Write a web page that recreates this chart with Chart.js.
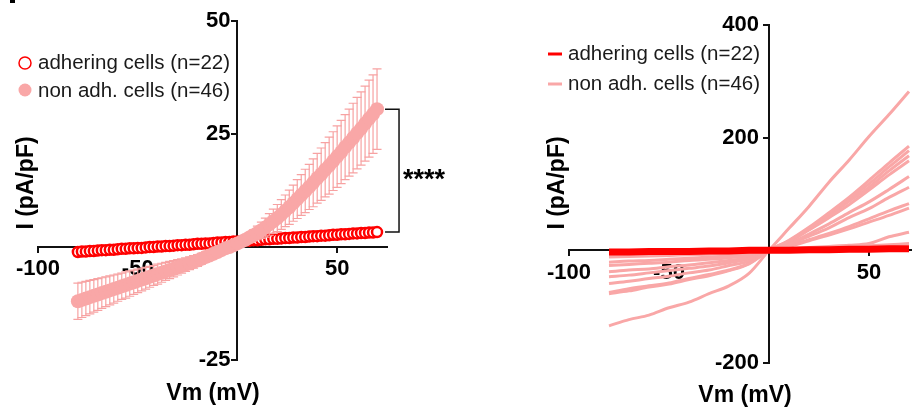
<!DOCTYPE html>
<html>
<head>
<meta charset="utf-8">
<script src="https://cdn.jsdelivr.net/npm/chart.js@4.4.0/dist/chart.umd.min.js"></script>
<style>
  html, body { margin: 0; padding: 0; background: #fff; }
  #wrap { position: relative; width: 912px; height: 411px; overflow: hidden; background: #fff; }
  canvas { position: absolute; top: 0; }
  #meanChart { left: 0; }
  #traceChart { left: 456px; }
</style>
</head>
<body>
<div id="wrap">
  <canvas id="meanChart" width="456" height="411"></canvas>
  <canvas id="traceChart" width="456" height="411"></canvas>
</div>
<script>
// ---- data ----

// left panel: mean +/- SEM, one sample every 2 mV
const meanVm = [-80, -78, -76, -74, -72, -70, -68, -66, -64, -62, -60, -58, -56, -54, -52, -50, -48, -46, -44, -42,
                -40, -38, -36, -34, -32, -30, -28, -26, -24, -22, -20, -18, -16, -14, -12, -10, -8, -6, -4, -2,
                0, 2, 4, 6, 8, 10, 12, 14, 16, 18, 20, 22, 24, 26, 28, 30, 32, 34, 36, 38,
                40, 42, 44, 46, 48, 50, 52, 54, 56, 58, 60, 62, 64, 66, 68, 70];
const adheringMean = [-1.1, -1.0, -1.0, -0.9, -0.9, -0.8, -0.7, -0.7, -0.6, -0.6, -0.5, -0.4, -0.4, -0.3, -0.3, -0.2, -0.2, -0.1, 0.0, 0.0,
                      0.1, 0.1, 0.2, 0.2, 0.3, 0.4, 0.4, 0.5, 0.5, 0.6, 0.7, 0.7, 0.8, 0.8, 0.9, 1.0, 1.0, 1.1, 1.1, 1.2,
                      1.2, 1.3, 1.4, 1.4, 1.5, 1.5, 1.6, 1.7, 1.7, 1.8, 1.8, 1.9, 2.0, 2.0, 2.1, 2.1, 2.2, 2.2, 2.3, 2.4,
                      2.4, 2.5, 2.5, 2.6, 2.7, 2.7, 2.8, 2.8, 2.9, 3.0, 3.0, 3.1, 3.1, 3.2, 3.2, 3.3];
const nonAdhMean = [-12.0, -11.7, -11.4, -11.1, -10.8, -10.5, -10.2, -9.9, -9.6, -9.3, -9.0, -8.7, -8.4, -8.1, -7.8, -7.5, -7.2, -6.9, -6.6, -6.3,
                    -6.0, -5.7, -5.4, -5.1, -4.8, -4.5, -4.2, -3.9, -3.6, -3.3, -3.0, -2.6, -2.2, -1.9, -1.5, -1.1, -0.7, -0.3, 0.0, 0.4,
                    0.8, 1.2, 1.6, 2.1, 2.6, 3.1, 3.7, 4.3, 5.0, 5.7, 6.4, 7.2, 8.0, 8.8, 9.7, 10.6, 11.5, 12.4, 13.3, 14.2,
                    15.2, 16.1, 17.1, 18.0, 19.0, 20.0, 21.0, 22.1, 23.1, 24.1, 25.2, 26.2, 27.3, 28.4, 29.4, 30.5];
const nonAdhSem = [4.0, 3.9, 3.8, 3.7, 3.6, 3.5, 3.4, 3.3, 3.2, 3.1, 3.0, 2.9, 2.9, 2.8, 2.7, 2.6, 2.5, 2.4, 2.3, 2.2,
                   2.2, 2.1, 2.0, 1.9, 1.8, 1.7, 1.6, 1.5, 1.4, 1.4, 1.3, 1.2, 1.1, 1.0, 0.9, 0.8, 0.7, 0.6, 0.5, 0.4,
                   0.4, 0.6, 0.8, 1.0, 1.2, 1.5, 1.8, 2.1, 2.4, 2.7, 3.0, 3.3, 3.5, 3.8, 4.0, 4.3, 4.5, 4.8, 5.0, 5.3,
                   5.5, 5.8, 6.0, 6.3, 6.5, 6.8, 7.0, 7.2, 7.4, 7.7, 7.9, 8.1, 8.3, 8.5, 8.7, 8.9];

// right panel: single cell traces, one sample every 10 mV
const traceVm = [-80, -70, -60, -50, -40, -30, -20, -10, 0, 10, 20, 30, 40, 50, 60, 70];
const adheringTrace = [-3, -3, -2, -2, -2, -1, -1, 0, 0, 0, 1, 1, 2, 2, 3, 3];
const nonAdhTraces = [
  [-134, -123, -115, -102, -92, -77, -63, -41, 0, 39, 78, 121, 160, 202, 241, 282],
  [-77, -72, -65, -60, -52, -45, -36, -24, 0, 18, 41, 67, 94, 124, 155, 185],
  [-75, -68, -63, -58, -50, -43, -35, -23, 0, 17, 39, 65, 91, 118, 148, 177],
  [-59, -55, -50, -46, -40, -35, -27, -19, 0, 16, 37, 61, 87, 112, 141, 168],
  [-47, -44, -40, -36, -32, -28, -22, -15, 0, 15, 36, 58, 81, 107, 134, 159],
  [-38, -35, -33, -29, -26, -22, -18, -12, 0, 12, 29, 47, 67, 86, 108, 131],
  [-27, -25, -23, -21, -18, -16, -13, -9, 0, 11, 25, 40, 58, 74, 94, 112],
  [-21, -19, -18, -16, -14, -12, -10, -7, 0, 8, 19, 30, 42, 56, 70, 83],
  [-12, -11, -10, -9, -8, -7, -6, -4, 0, 7, 17, 27, 38, 50, 62, 75],
  [-8, -7, -7, -6, -5, -5, -4, -3, 0, 3, 5, 7, 9, 12, 24, 32],
  [-5, -5, -4, -4, -3, -3, -2, -1, 0, 1, 3, 4, 6, 8, 10, 12]
];

const seriesLabels = ['adhering cells (n=22)', 'non adh. cells (n=46)'];
const meanXTicks = [-100, -50, 0, 50];
const meanYTicks = [-25, 0, 25, 50];
const traceXTicks = [-100, -50, 0, 50];
const traceYTicks = [-200, 0, 200, 400];
const xTitle = 'Vm (mV)';
const yTitle = 'I (pA/pF)';
const starsLabel = '****';

// ---- styling ----
const RED = '#ff0000';
const PINK = '#f9a7a7';
const SEM_PINK = '#f7a2a2';
const FONT = '"Liberation Sans", Arial, Helvetica, sans-serif';
const TICK_FONT = 'bold 22px ' + FONT;

const toPoints = (xs, ys) => xs.map((v, i) => ({ x: v, y: ys[i] }));
const tickText = (v) => (v === 0 ? '' : String(v));

function axis(ticks, min, max, isX) {
  return {
    type: 'linear',
    min: min,
    max: max,
    position: isX ? { y: 0 } : { x: 0 },
    afterBuildTicks: (s) => { s.ticks = ticks.map(v => ({ value: v })); },
    afterFit: (s) => { if (isX) s.height = 0; else s.width = 0; },
    border: { display: true, color: '#111', width: 2 },
    grid: { drawOnChartArea: false, drawTicks: true, tickLength: 5, color: '#111', lineWidth: 2 },
    ticks: {
      // y labels are placed by the yLabels plugin (object position ignores padding)
      display: isX,
      autoSkip: false,
      maxRotation: 0,
      padding: 4,
      color: '#000',
      font: { family: FONT, size: 22, weight: 'bold' },
      callback: tickText
    }
  };
}

// y tick labels, left of the centred y axis, under the data
function yLabels(gap) {
  return {
    id: 'yLabels',
    beforeDatasetsDraw(chart) {
      const { ctx, scales: { x, y } } = chart;
      const ax = x.getPixelForValue(0) - gap;
      ctx.save();
      ctx.fillStyle = '#000';
      ctx.font = TICK_FONT;
      ctx.textAlign = 'right';
      ctx.textBaseline = 'middle';
      y.ticks.forEach((t) => {
        const s = tickText(t.value);
        if (s) ctx.fillText(s, ax, y.getPixelForValue(t.value));
      });
      ctx.restore();
    }
  };
}

function drawAxisTitles(ctx, yx, yy, xx, xy) {
  ctx.save();
  ctx.fillStyle = '#000';
  ctx.font = 'bold 23px ' + FONT;
  ctx.textAlign = 'center';
  ctx.textBaseline = 'middle';
  ctx.fillText(xTitle, xx, xy);
  ctx.translate(yx, yy);
  ctx.rotate(-Math.PI / 2);
  ctx.fillText(yTitle, 0, 0);
  ctx.restore();
}

function drawLegendText(ctx, x, y1, y2) {
  ctx.fillStyle = '#1a1a1a';
  ctx.font = '20.5px ' + FONT;
  ctx.textAlign = 'left';
  ctx.textBaseline = 'middle';
  ctx.fillText(seriesLabels[0], x, y1);
  ctx.fillText(seriesLabels[1], x, y2);
}

// error bars behind the pink markers
const semBars = {
  id: 'semBars',
  beforeDatasetDraw(chart, args) {
    if (args.index !== 0) return;
    const { ctx, scales: { x, y } } = chart;
    ctx.save();
    ctx.strokeStyle = SEM_PINK;
    ctx.lineWidth = 1.2;
    meanVm.forEach((v, i) => {
      const px = x.getPixelForValue(v);
      const top = y.getPixelForValue(nonAdhMean[i] + nonAdhSem[i]);
      const bot = y.getPixelForValue(nonAdhMean[i] - nonAdhSem[i]);
      ctx.beginPath();
      ctx.moveTo(px, top); ctx.lineTo(px, bot);
      ctx.moveTo(px - 4.5, top); ctx.lineTo(px + 4.5, top);
      ctx.moveTo(px - 4.5, bot); ctx.lineTo(px + 4.5, bot);
      ctx.stroke();
    });
    ctx.restore();
  }
};

const meanDecor = {
  id: 'meanDecor',
  afterDraw(chart) {
    const { ctx, scales: { x, y } } = chart;
    const last = meanVm.length - 1;

    // significance bracket between the two end points
    const bx0 = x.getPixelForValue(meanVm[last]) + 8;
    const bx1 = bx0 + 14;
    const byTop = y.getPixelForValue(nonAdhMean[last]);
    const byBot = y.getPixelForValue(adheringMean[last]);
    ctx.save();
    ctx.strokeStyle = '#111';
    ctx.lineWidth = 1.5;
    ctx.beginPath();
    ctx.moveTo(bx0, byTop); ctx.lineTo(bx1, byTop); ctx.lineTo(bx1, byBot); ctx.lineTo(bx0, byBot);
    ctx.stroke();
    ctx.fillStyle = '#000';
    ctx.font = 'bold 27px ' + FONT;
    ctx.textAlign = 'left';
    ctx.textBaseline = 'alphabetic';
    ctx.fillText(starsLabel, bx1 + 4, (byTop + byBot) / 2 + 17);

    // legend
    ctx.lineWidth = 1.5;
    ctx.strokeStyle = RED;
    ctx.fillStyle = '#fff';
    ctx.beginPath(); ctx.arc(25, 63, 6, 0, Math.PI * 2); ctx.fill(); ctx.stroke();
    ctx.fillStyle = PINK;
    ctx.beginPath(); ctx.arc(25, 90, 6.5, 0, Math.PI * 2); ctx.fill();
    drawLegendText(ctx, 38, 63, 91);

    // fragment of the panel letter cut off at the top edge
    ctx.fillStyle = '#000';
    ctx.fillRect(10, 0, 5, 3);
    ctx.restore();

    drawAxisTitles(ctx, 27, 183, 213, 394);
  }
};

const traceDecor = {
  id: 'traceDecor',
  afterDraw(chart) {
    const { ctx } = chart;
    ctx.save();
    ctx.lineWidth = 3;
    ctx.strokeStyle = RED;
    ctx.beginPath(); ctx.moveTo(92, 54); ctx.lineTo(106, 54); ctx.stroke();
    ctx.strokeStyle = PINK;
    ctx.beginPath(); ctx.moveTo(92, 84); ctx.lineTo(106, 84); ctx.stroke();
    drawLegendText(ctx, 112, 54, 84);
    ctx.restore();
    drawAxisTitles(ctx, 102, 183, 289, 396);
  }
};

const common = {
  responsive: false,
  animation: false,
  devicePixelRatio: 1,
  events: [],
  plugins: { legend: { display: false }, tooltip: { enabled: false } }
};

new Chart(document.getElementById('meanChart'), {
  type: 'scatter',
  data: {
    datasets: [
      {
        label: seriesLabels[1],
        data: toPoints(meanVm, nonAdhMean),
        pointRadius: 7,
        pointBackgroundColor: PINK,
        pointBorderWidth: 0,
        clip: false
      },
      {
        label: seriesLabels[0],
        data: toPoints(meanVm, adheringMean),
        pointRadius: 5,
        pointBackgroundColor: '#fff',
        pointBorderColor: RED,
        pointBorderWidth: 2.5,
        clip: false
      }
    ]
  },
  options: Object.assign({}, common, {
    layout: { padding: { left: 38, right: 69, top: 21, bottom: 51 } },
    scales: {
      x: axis(meanXTicks, -100, 75, true),
      y: axis(meanYTicks, -25, 50, false)
    }
  }),
  plugins: [yLabels(7), semBars, meanDecor]
});

const traceSets = [{
  label: seriesLabels[0],
  data: toPoints(traceVm, adheringTrace),
  showLine: true,
  borderColor: RED,
  borderWidth: 7,
  pointRadius: 0,
  clip: false
}].concat(nonAdhTraces.map((tr) => ({
  label: seriesLabels[1],
  data: toPoints(traceVm, tr),
  showLine: true,
  borderColor: PINK,
  borderWidth: 3,
  pointRadius: 0,
  cubicInterpolationMode: 'monotone',
  clip: false
})));

new Chart(document.getElementById('traceChart'), {
  type: 'scatter',
  data: { datasets: traceSets },
  options: Object.assign({}, common, {
    layout: { padding: { left: 113, right: 1, top: 25, bottom: 48 } },
    scales: {
      x: axis(traceXTicks, -100, 71, true),
      y: axis(traceYTicks, -200, 400, false)
    }
  }),
  plugins: [yLabels(10), traceDecor]
});
</script>
</body>
</html>
